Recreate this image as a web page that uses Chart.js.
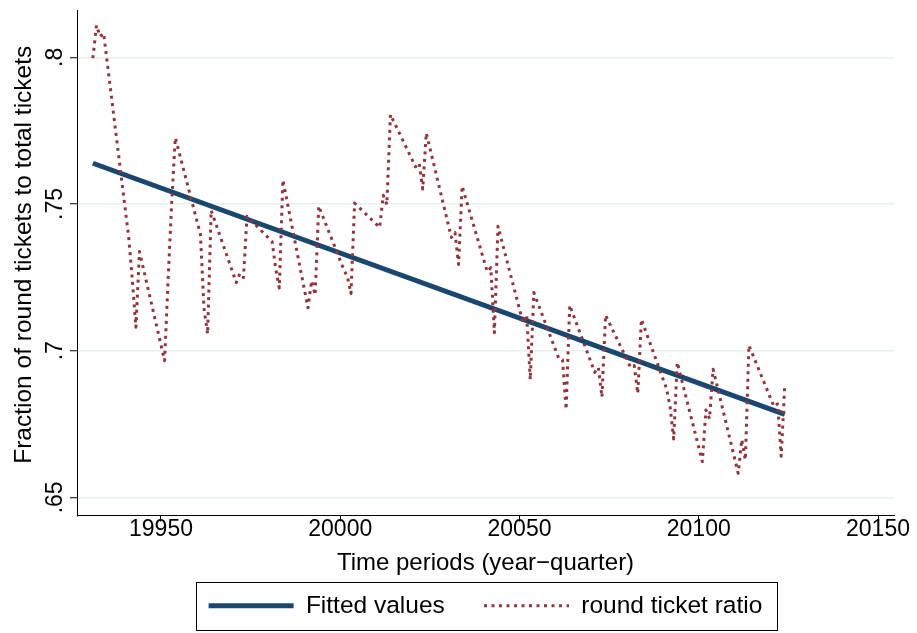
<!DOCTYPE html>
<html><head><meta charset="utf-8">
<script src="https://cdn.jsdelivr.net/npm/chart.js@4.4.1/dist/chart.umd.min.js"></script>
<style>html,body{margin:0;padding:0;background:#fff;}canvas{display:block;}</style>
</head><body>
<canvas id="c" width="917" height="633"></canvas>
<script>
const periods = [19931,19932,19933,19934,19941,19942,19943,19944,19951,19952,19953,19954,19961,19962,19963,19964,
  19971,19972,19973,19974,19981,19982,19983,19984,19991,19992,19993,19994,20001,20002,20003,20004,
  20011,20012,20013,20014,20021,20022,20023,20024,20031,20032,20033,20034,20041,20042,20043,20044,
  20051,20052,20053,20054,20061,20062,20063,20064,20071,20072,20073,20074,20081,20082,20083,20084,
  20091,20092,20093,20094,20101,20102,20103,20104,20111,20112,20113,20114,20121,20122,20123,20124];
const roundTicketRatio = [
  0.7997,0.8109,0.8071,0.8082, 0.7386,0.7242,0.7080,0.7338, 0.6966,0.7246,0.7510,0.7726,
  0.7396,0.7143,0.7057,0.7478, 0.7232,0.7263,0.7249,0.7458, 0.7372,0.7280,0.7214,0.7582,
  0.7146,0.7238,0.7190,0.7493, 0.7276,0.7252,0.7195,0.7503, 0.7420,0.7530,0.7498,0.7805,
  0.7627,0.7640,0.7551,0.7742, 0.7386,0.7403,0.7294,0.7561, 0.7269,0.7283,0.7061,0.7424,
  0.7094,0.7122,0.6901,0.7198, 0.6972,0.6969,0.6800,0.7155, 0.6926,0.6943,0.6842,0.7121,
  0.6943,0.6949,0.6854,0.7107, 0.6871,0.6809,0.6699,0.6960, 0.6622,0.6798,0.6768,0.6937,
  0.6582,0.6697,0.6628,0.7018, 0.6809,0.6819,0.6640,0.6886];
const fittedPeriods = [19931, 20124];
const fittedValues = [0.7639, 0.6783];
const xTickValues = [19950, 20000, 20050, 20100, 20150];
const xTickLabels = ['19950', '20000', '20050', '20100', '20150'];
const yTickValues = [0.65, 0.70, 0.75, 0.80];
const yTickLabels = ['.65', '.7', '.75', '.8'];
const seriesNames = ['Fitted values', 'round ticket ratio'];
const xTitle = 'Time periods (year\u2212quarter)';
const yTitle = 'Fraction of round tickets to total tickets';

const FONT = "'Liberation Sans', Arial, Helvetica, sans-serif";
const NAVY = '#1a476f';
const MAROON = '#90353b';

const extras = {
  id: 'extras',
  afterDraw(chart) {
    const ctx = chart.ctx;
    const ys = chart.scales.y;
    ctx.save();
    ctx.fillStyle = '#000';
    ctx.textAlign = 'center';
    ctx.textBaseline = 'alphabetic';
    ctx.font = '23px ' + FONT;
    yTickValues.forEach((v, i) => {
      const py = ys.getPixelForValue(v);
      ctx.save(); ctx.translate(62, py); ctx.rotate(-Math.PI / 2);
      ctx.fillText(yTickLabels[i], 0, 0); ctx.restore();
    });
    ctx.font = '24.5px ' + FONT;
    ctx.save(); ctx.translate(31, (ys.top + ys.bottom) / 2 - 8); ctx.rotate(-Math.PI / 2);
    ctx.fillText(yTitle, 0, 0); ctx.restore();
    const hb = chart.legend.legendHitBoxes;
    if (hb && hb.length) {
      const cy = hb[0].top + hb[0].height / 2;
      const l = hb[0].left - 13, r = hb[hb.length - 1].left + hb[hb.length - 1].width + 14;
      ctx.strokeStyle = '#000'; ctx.lineWidth = 1; ctx.setLineDash([]);
      ctx.strokeRect(Math.round(l) + 0.5, Math.round(cy - 24) + 0.5, Math.round(r - l), 48);
    }
    ctx.restore();
  }
};

new Chart(document.getElementById('c'), {
  type: 'line',
  data: {
    datasets: [
      { label: seriesNames[0] + '    ', data: fittedPeriods.map((p, i) => ({x: p, y: fittedValues[i]})),
        borderColor: NAVY, backgroundColor: NAVY, borderWidth: 5, pointRadius: 0, tension: 0, order: 1,
        borderCapStyle: 'butt', borderJoinStyle: 'round' },
      { label: seriesNames[1], data: periods.map((p, i) => ({x: p, y: roundTicketRatio[i]})),
        borderColor: MAROON, backgroundColor: MAROON, borderWidth: 3, borderDash: [3, 4.5],
        borderCapStyle: 'butt', borderJoinStyle: 'round', pointRadius: 0, tension: 0, order: 0 }
    ]
  },
  options: {
    responsive: false, animation: false, devicePixelRatio: 1,
    layout: { padding: { left: 0, right: 23, top: 10, bottom: 5 } },
    plugins: {
      tooltip: { enabled: false },
      legend: {
        position: 'bottom', fullSize: false, maxHeight: 50,
        labels: {
          usePointStyle: true, pointStyle: 'line', pointStyleWidth: 85, boxWidth: 85,
          padding: 12, color: '#000', font: { size: 24.5, family: FONT },
          generateLabels(chart) {
            return chart.data.datasets.map((ds, i) => ({
              text: ds.label, fillStyle: ds.borderColor, strokeStyle: ds.borderColor,
              lineWidth: ds.borderWidth, lineDash: ds.borderDash || [], lineCap: 'butt',
              pointStyle: 'line', rotation: 0, hidden: false, datasetIndex: i, fontColor: '#000'
            }));
          }
        }
      }
    },
    scales: {
      x: {
        type: 'linear', min: 19926.57, max: 20154.46,
        afterBuildTicks: s => { s.ticks = xTickValues.map(v => ({ value: v })); },
        afterFit: s => { s.height = 66; s.paddingLeft = 0; s.paddingRight = 0; },
        grid: { drawOnChartArea: false, drawTicks: true, tickLength: 6, tickColor: '#000', tickWidth: 1 },
        border: { display: true, color: '#000', width: 1 },
        ticks: { color: '#000', font: { size: 23, family: FONT }, padding: -6, maxRotation: 0, autoSkip: false,
          callback: (v, i) => xTickLabels[i] },
        title: { display: true, text: xTitle, color: '#000', font: { size: 24, family: FONT },
          padding: { top: 0, bottom: 4 } }
      },
      y: {
        type: 'linear', min: 0.64382, max: 0.81613,
        afterBuildTicks: s => { s.ticks = yTickValues.map(v => ({ value: v })); },
        afterFit: s => { s.width = 77; },
        grid: { color: '#e6eff1', lineWidth: 1.5, drawTicks: true, tickLength: 7, tickColor: '#000', tickWidth: 1 },
        border: { display: true, color: '#000', width: 1 },
        ticks: { display: false }
      }
    }
  },
  plugins: [extras]
});
</script>
</body></html>
